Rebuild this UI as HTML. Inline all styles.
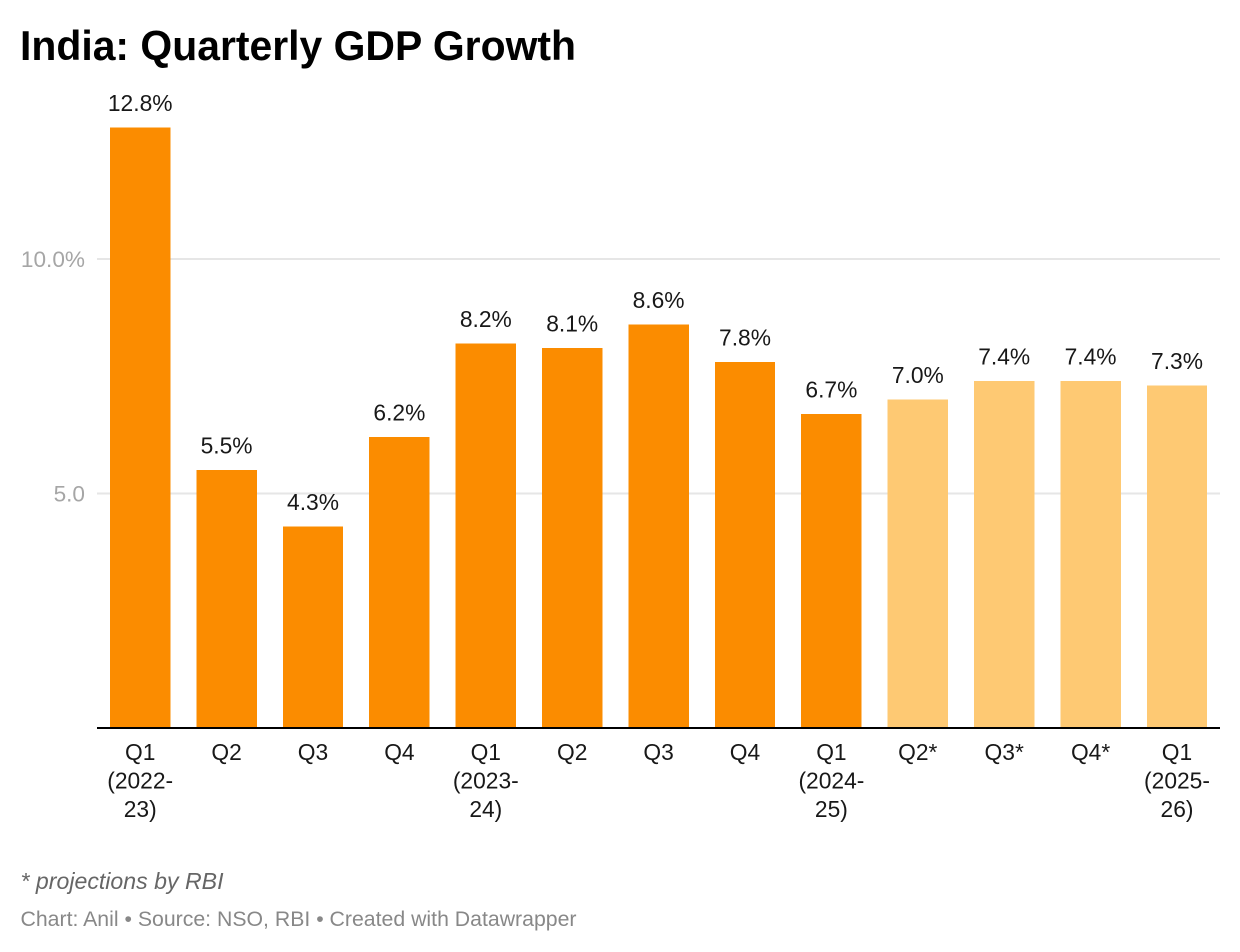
<!DOCTYPE html>
<html lang="en">
<head>
<meta charset="utf-8">
<title>India: Quarterly GDP Growth</title>
<style>
html,body{margin:0;padding:0;background:#fff;width:1240px;height:952px;overflow:hidden}
svg{display:block;font-family:"Liberation Sans",Arial,sans-serif}
</style>
</head>
<body>
<svg id="chart" xmlns="http://www.w3.org/2000/svg" width="1240" height="952" viewBox="0 0 1240 952">
<rect x="0" y="0" width="1240" height="952" fill="#ffffff"/>
<text x="20" y="60" font-size="42" font-weight="700" fill="#000" textLength="556" lengthAdjust="spacingAndGlyphs">India: Quarterly GDP Growth</text>
<g id="grid"></g>
<g id="bars"></g>
<g id="values"></g>
<g id="xlabels"></g>
<g id="ylabels"></g>
<rect x="97" y="727" width="1123" height="2" fill="#000"/>
<text x="20.5" y="889" font-size="23" font-style="italic" fill="#666" textLength="203" lengthAdjust="spacingAndGlyphs">* projections by RBI</text>
<text x="20.5" y="926" font-size="21" fill="#888" textLength="556" lengthAdjust="spacingAndGlyphs">Chart: Anil • Source: NSO, RBI • Created with Datawrapper</text>
</svg>
<script>
const categories = [
  ["Q1","(2022-","23)"],["Q2"],["Q3"],["Q4"],
  ["Q1","(2023-","24)"],["Q2"],["Q3"],["Q4"],
  ["Q1","(2024-","25)"],["Q2*"],["Q3*"],["Q4*"],
  ["Q1","(2025-","26)"]
];
const growthValues = [12.8,5.5,4.3,6.2,8.2,8.1,8.6,7.8,6.7,7.0,7.4,7.4,7.3];
const isProjection = [false,false,false,false,false,false,false,false,false,true,true,true,true];
const yTicks = [5,10];
const yTickLabels = ["5.0","10.0%"];

const NS = "http://www.w3.org/2000/svg";
const plot = {left:110, step:86.4, barWidth:60.4, baseY:728, unit:46.9};
const xPos = i => plot.left + i * plot.step;
const yPos = v => plot.baseY - v * plot.unit;

function make(tag, attrs, text){
  const el = document.createElementNS(NS, tag);
  for (const k in attrs) el.setAttribute(k, attrs[k]);
  if (text !== undefined) el.textContent = text;
  return el;
}

const grid = document.getElementById("grid");
const ylabels = document.getElementById("ylabels");
yTicks.forEach((t, i) => {
  const line = make("rect", {x:97, y:yPos(t)-1, width:1123, height:2, fill:"#e6e6e6", "shape-rendering":"crispEdges"});
  
  
  grid.appendChild(line);
  const label = make("text", {x:85, y:yPos(t)+8, "font-size":22.6, "text-anchor":"end", fill:"#a6a6a6"}, yTickLabels[i]);
  
  
  ylabels.appendChild(label);
});

const bars = document.getElementById("bars");
const values = document.getElementById("values");
const xlabels = document.getElementById("xlabels");
growthValues.forEach((v, i) => {
  const top = yPos(v);
  const bar = make("rect", {x:xPos(i), y:top, width:plot.barWidth, height:plot.baseY-top, fill:isProjection[i] ? "#fec973" : "#fb8c00", "shape-rendering":"crispEdges"});
  
  
  bars.appendChild(bar);
  const cx = xPos(i) + plot.barWidth / 2;
  const val = make("text", {x:cx, y:top-16.5, "font-size":22.8, "text-anchor":"middle", fill:"#181818"}, v.toFixed(1) + "%");
  
  
  values.appendChild(val);
  categories[i].forEach((line, j) => {
    const t = make("text", {x:cx, y:760 + j * 28.5, "font-size":22.8, "text-anchor":"middle", fill:"#181818"}, line);
    
    
    xlabels.appendChild(t);
  });
});
</script>
</body>
</html>
